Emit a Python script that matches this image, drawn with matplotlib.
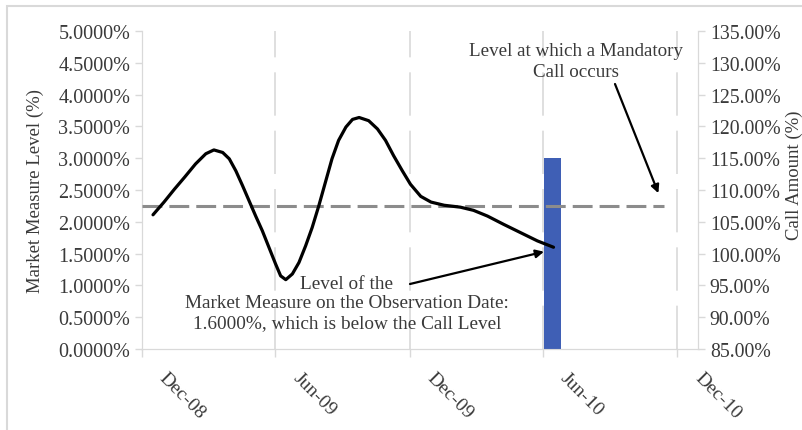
import numpy as np
import pandas as pd
import matplotlib
matplotlib.use("Agg")
import matplotlib.pyplot as plt
from matplotlib.ticker import FuncFormatter, MultipleLocator
from matplotlib.transforms import offset_copy
from matplotlib.patches import Rectangle

# Market measure curve
datas = ["2008-12-16", "2008-12-31", "2009-01-14", "2009-01-28", "2009-02-12",
         "2009-02-26", "2009-03-09", "2009-03-21", "2009-03-30", "2009-04-08",
         "2009-04-17", "2009-04-26", "2009-05-05", "2009-05-14", "2009-05-23",
         "2009-06-01", "2009-06-08", "2009-06-15", "2009-06-24", "2009-07-03",
         "2009-07-12", "2009-07-21", "2009-07-30", "2009-08-08", "2009-08-17",
         "2009-08-26", "2009-09-05", "2009-09-14", "2009-09-23", "2009-10-06",
         "2009-10-18", "2009-10-29", "2009-11-09", "2009-11-21", "2009-12-02",
         "2009-12-16", "2009-12-30", "2010-01-17", "2010-02-08", "2010-02-26",
         "2010-03-17", "2010-04-08", "2010-05-01", "2010-05-24", "2010-06-15"]
nivel = [2.11, 2.31, 2.51, 2.70, 2.91,
         3.07, 3.13, 3.09, 2.99, 2.80,
         2.57, 2.33, 2.09, 1.86, 1.60,
         1.34, 1.15, 1.09, 1.18, 1.36,
         1.62, 1.91, 2.25, 2.62, 2.99,
         3.28, 3.49, 3.61, 3.64, 3.59,
         3.46, 3.28, 3.04, 2.80, 2.59,
         2.40, 2.31, 2.26, 2.23, 2.18,
         2.09, 1.96, 1.83, 1.70, 1.60]

# Call level line
call_level = 2.25
call_inicio, call_fim = "2008-12-01", "2010-11-12"

# Call amount bar
data_obs = "2010-06-14"
call_amount = 115.0

ticks_x = ["2008-12-01", "2009-06-01", "2009-12-01", "2010-06-01", "2010-12-01"]
labels_x = ["Dec-08", "Jun-09", "Dec-09", "Jun-10", "Dec-10"]

plt.rcParams['font.family'] = ['Liberation Serif', 'DejaVu Serif']
cinza_txt = '#3a3a3a'
cinza_eixo = '#d9d9d9'

fig = plt.figure(figsize=(8.02, 4.31), dpi=100)
ax = fig.add_axes([142/802, 1 - 350/431, (698 - 142)/802, (350 - 32)/431])
ax2 = ax.twinx()

x = pd.to_datetime(datas)
ax.plot(x, nivel, color='black', lw=2.3, solid_capstyle='round', solid_joinstyle='round', zorder=5)
ax.plot(pd.to_datetime([call_inicio, call_fim]), [call_level, call_level],
        color='#8c8c8c', lw=2.2, dashes=(6.5, 2.3), zorder=4)

ax2.bar(pd.to_datetime([data_obs]), [call_amount], width=23, color='#3f5fb5', zorder=3)

ax.set_xlim(pd.Timestamp("2008-12-01"), pd.Timestamp("2010-12-29"))
ax.set_ylim(0, 5)
ax2.set_ylim(85, 135)
ax.set_zorder(ax2.get_zorder() + 1)
ax.patch.set_visible(False)

ax.yaxis.set_major_locator(MultipleLocator(0.5))
ax.yaxis.set_major_formatter(FuncFormatter(lambda v, p: f"{v:.4f}%"))
ax2.yaxis.set_major_locator(MultipleLocator(5))
ax2.yaxis.set_major_formatter(FuncFormatter(lambda v, p: f"{v:.2f}%"))

for a in (ax, ax2):
    for s in a.spines.values():
        s.set_color(cinza_eixo)
    a.spines['top'].set_visible(False)
    a.tick_params(axis='y', colors=cinza_eixo, labelcolor=cinza_txt, labelsize=14.5, length=5, width=1)
ax2.tick_params(axis='y', labelsize=14.2)

# vertical dashed gridlines + tick labels
tx = pd.to_datetime(ticks_x)
ax.set_xticks(tx)
ax.set_xticklabels([])
ax.tick_params(axis='x', colors=cinza_eixo, length=6, width=1)
for t in tx[1:]:
    ax.axvline(t, color=cinza_eixo, lw=1.2, dashes=(26, 9), zorder=1)
trans = offset_copy(ax.get_xaxis_transform(), fig=fig, x=20, y=-26, units='dots')
for t, lab in zip(tx, labels_x):
    ax.text(t, 0, lab, transform=trans, rotation=-45, rotation_mode='anchor',
            ha='left', va='center', fontsize=14, color=cinza_txt)

fig.text(35/802, 1 - 191/431, "Market Measure Level (%)", rotation=90,
         ha='center', va='center', fontsize=13.5, color=cinza_txt)
fig.text(794/802, 1 - 175/431, "Call Amount (%)", rotation=90,
         ha='center', va='center', fontsize=13.5, color=cinza_txt)

# annotations
seta = dict(arrowstyle='-|>', color='black', lw=1.6, mutation_scale=12, shrinkA=0, shrinkB=0)
fig.text(576/802, 1 - 62/431, "Level at which a Mandatory\nCall occurs",
         ha='center', va='center', fontsize=13.7, color=cinza_txt, linespacing=1.25)
ax.annotate("", xy=(pd.Timestamp("2010-11-05"), 2.45), xycoords='data',
            xytext=(615/802, 1 - 85/431), textcoords='figure fraction', arrowprops=seta)
ax.annotate("", xy=(pd.Timestamp("2010-06-02"), 1.53), xycoords='data',
            xytext=(410/802, 1 - 285/431), textcoords='figure fraction', arrowprops=seta)
fig.text(347/802, 1 - 304/431,
         "Level of the\nMarket Measure on the Observation Date:\n1.6000%, which is below the Call Level",
         ha='center', va='center', fontsize=13.9, color=cinza_txt, linespacing=1.22)

# chart area border
fig.patches.append(Rectangle((7/802, -0.1), 1.2, 1 - 7/431 + 0.1, transform=fig.transFigure,
                             fill=False, edgecolor='#d9d9d9', lw=1.5))

fig.savefig('out.png', dpi=100)
